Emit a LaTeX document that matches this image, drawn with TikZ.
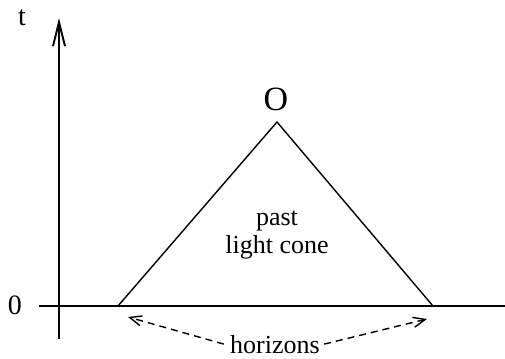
\documentclass[tikz,border=0pt]{standalone}
\usepackage{fontspec}
\setmainfont{Liberation Serif}
\usetikzlibrary{arrows.meta}
\begin{document}
\begin{tikzpicture}[x=0.5pt,y=-0.5pt,
    axis/.style={line width=1pt},
    cone/.style={line width=0.7pt},
    lbl/.style={font=\fontsize{13}{14}\selectfont, inner sep=0pt},
    hint/.style={dash pattern=on 3.5pt off 2.5pt, line width=0.7pt,
                 -{Straight Barb[length=6pt,width=5pt]}},
]
\useasboundingbox (0,0) rectangle (505,359);
% axes
\coordinate (tbot) at (59,339);
\coordinate (ttop) at (59,18);
\coordinate (xl) at (39,306);
\coordinate (xr) at (505,306);
\draw[axis,-{Straight Barb[length=12pt,width=6pt]}] (tbot) -- (ttop);
\draw[axis] (xl) -- (xr);
\node[lbl, font=\fontsize{14}{15}\selectfont] (t) at (22,18) {t};
\node[lbl, font=\fontsize{14}{15}\selectfont] (zero) at (15,305) {0};
% light cone
\coordinate (L) at (118,306);
\coordinate (R) at (433,306);
\coordinate (O) at (277,122);
\draw[cone] (L) -- (O) -- (R);
\node[lbl, font=\fontsize{17}{18}\selectfont] (Olbl) at (276,99) {O};
\node[lbl, align=center, anchor=base] (past) at (277,253) {past\\light cone};
% horizons
\node[lbl, anchor=base] (hor) at (275,353) {horizons};
\coordinate (hl) at (128,317);
\coordinate (hr) at (427,319);
\draw[hint] ([xshift=-3pt]hor.west) -- (hl);
\draw[hint] ([xshift=2pt]hor.east) -- (hr);
\end{tikzpicture}
\end{document}
